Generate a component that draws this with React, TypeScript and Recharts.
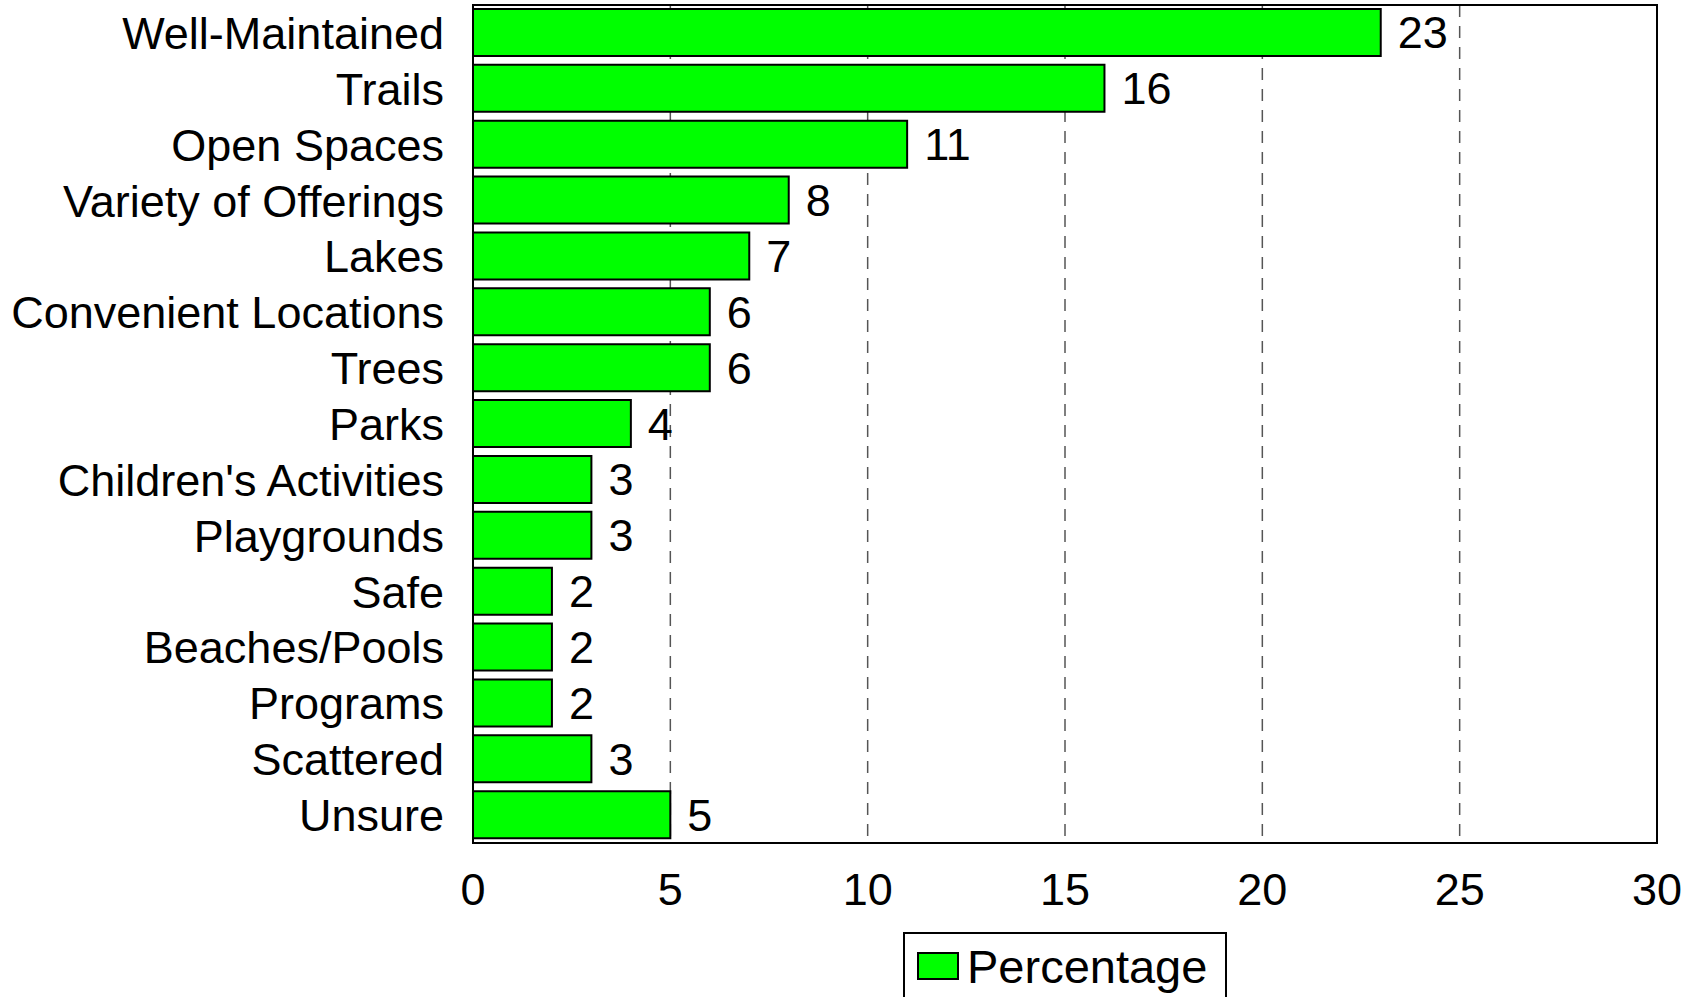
import { BarChart, Bar, XAxis, YAxis, CartesianGrid, LabelList, Legend, ReferenceArea } from "recharts";

const categories = [
  "Well-Maintained",
  "Trails",
  "Open Spaces",
  "Variety of Offerings",
  "Lakes",
  "Convenient Locations",
  "Trees",
  "Parks",
  "Children's Activities",
  "Playgrounds",
  "Safe",
  "Beaches/Pools",
  "Programs",
  "Scattered",
  "Unsure",
];
const percentage = [23, 16, 11, 8, 7, 6, 6, 4, 3, 3, 2, 2, 2, 3, 5];
const xTicks = [0, 5, 10, 15, 20, 25, 30];

const data = categories.map((name, i) => ({ name, value: percentage[i] }));

const font = "'Liberation Sans', Arial, Helvetica, sans-serif";
const green = "#00ff00";

function LegendBox() {
  return (
    <div
      style={{
        position: "relative",
        width: 324,
        height: 72,
        boxSizing: "border-box",
        border: "2px solid #000",
        background: "#fff",
        fontFamily: font,
      }}
    >
      <div
        style={{
          position: "absolute",
          left: 12,
          top: 18,
          width: 42,
          height: 28,
          boxSizing: "border-box",
          border: "2px solid #000",
          background: green,
        }}
      />
      <span
        style={{
          position: "absolute",
          left: 62,
          top: 9,
          fontSize: 47,
          lineHeight: 1,
          color: "#000",
          whiteSpace: "nowrap",
        }}
      >
        Percentage
      </span>
    </div>
  );
}

export default function App() {
  return (
    <div
      style={{
        position: "absolute",
        left: 0,
        top: 0,
        width: 1694,
        height: 997,
        overflow: "hidden",
        background: "#fff",
      }}
    >
      <BarChart
        width={1694}
        height={997}
        data={data}
        layout="vertical"
        margin={{ top: 5, right: 37, left: 0, bottom: 0 }}
      >
        <CartesianGrid horizontal={false} stroke="#555" strokeDasharray="12 9" strokeWidth={1.5} />
        <XAxis
          type="number"
          domain={[0, 30]}
          ticks={xTicks}
          interval={0}
          height={154}
          tickLine={false}
          tickSize={0}
          tickMargin={30}
          axisLine={{ stroke: "#000", strokeWidth: 2 }}
          tick={{ fill: "#000", fontSize: 45, fontFamily: font }}
        />
        <YAxis
          type="category"
          dataKey="name"
          width={473}
          interval={0}
          tickLine={false}
          tickSize={0}
          tickMargin={29}
          axisLine={{ stroke: "#000", strokeWidth: 2 }}
          tick={{ fill: "#000", fontSize: 45, fontFamily: font }}
        />
        <Legend
          layout="vertical"
          verticalAlign="middle"
          align="center"
          wrapperStyle={{ left: 903, top: 932, width: 324 }}
          content={() => <LegendBox />}
        />
        <Bar dataKey="value" fill={green} stroke="#000" strokeWidth={2} barSize={47} isAnimationActive={false}>
          <LabelList
            dataKey="value"
            position="right"
            offset={17}
            fill="#000"
            fontSize={45}
            fontFamily={font}
          />
        </Bar>
        {/* plot frame */}
        <ReferenceArea x1={0} x2={30} fill="none" fillOpacity={0} stroke="#000" strokeWidth={2} ifOverflow="visible" />
      </BarChart>
    </div>
  );
}
